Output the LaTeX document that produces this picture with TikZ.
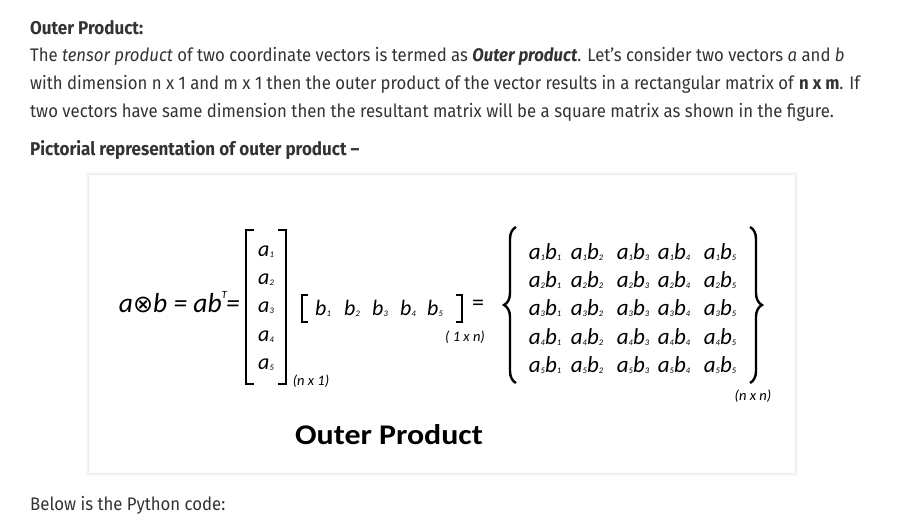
\documentclass[tikz,border=0pt]{standalone}
\usepackage{fontspec}
\setmainfont[FakeStretch=0.92]{Fira Sans}
\newfontfamily\calibri{Carlito}
\newfontfamily\calibriwide[FakeStretch=1.12]{Carlito}
\newfontfamily\symfont{DejaVu Sans}
\usetikzlibrary{positioning, decorations.pathreplacing}
\definecolor{bodytext}{RGB}{51, 51, 51}
\definecolor{cardline}{RGB}{236, 236, 236}
\definecolor{cardshadow}{RGB}{246, 246, 246}
\newcommand{\sub}[1]{\raisebox{-0.1ex}{\fontsize{8.5}{8.5}\selectfont #1}}

\begin{document}
\begin{tikzpicture}[x=1pt, y=-1pt]
    \tikzstyle{para} = [anchor=west, inner sep=0pt, text=bodytext,
                        font=\fontsize{18.2}{20}\selectfont]
    \tikzstyle{head} = [para, font=\fontsize{18.5}{20}\selectfont\bfseries]
    \tikzstyle{eq}   = [inner sep=0pt, font=\calibri\itshape\fontsize{22}{22}\selectfont]
    \tikzstyle{cell} = [inner sep=0pt, font=\calibri\itshape\fontsize{23}{23}\selectfont]
    \tikzstyle{dim}  = [inner sep=0pt, font=\calibri\itshape\fontsize{14.5}{15}\selectfont]
    \tikzstyle{bracket} = [line width=2.6pt]
    \tikzstyle{curly} = [line width=2.4pt, decorate,
                         decoration={brace, amplitude=12pt}]

    \useasboundingbox (0,0) rectangle (911,529);

    % text above the figure
    \node[head] (title) at (30,28) {Outer Product:};
    \node[para] (line1) at (30,56) {The \textit{tensor product} of two coordinate vectors is termed as \textbf{\textit{Outer product}}. Let’s consider two vectors \textit{a} and \textit{b}};
    \node[para] (line2) at (30,84) {with dimension n x 1 and m x 1 then the outer product of the vector results in a rectangular matrix of \textbf{n x m}. If};
    \node[para] (line3) at (30,112) {two vectors have same dimension then the resultant matrix will be a square matrix as shown in the figure.};
    \node[head] (pict) at (30,150) {Pictorial representation of outer product –};

    % card
    \fill[cardshadow] (86,172) rectangle (798,476);
    \draw[cardline, fill=white] (88,174) rectangle (795,473);

    % left hand side
    \node[eq, anchor=east, font=\calibri\itshape\fontsize{27.5}{28}\selectfont] (lhs) at (240,302)
        {a{\symfont\fontsize{24}{24}\selectfont ⊗}b = ab\raisebox{1.1ex}{\fontsize{11}{11}\selectfont T}\hspace{-1pt}=};

    % column vector a
    \foreach \r/\y in {1/252, 2/280, 3/308, 4/337, 5/365}
        \node[eq] (a\r) at (266,\y) {a\sub{\r}};
    \draw[bracket] (254,230) -- (246,230) -- (246,384) -- (254,384);
    \draw[bracket] (278,230) -- (286,230) -- (286,384) -- (278,384);
    \node[dim] (dima) at (311,381) {(n x 1)};

    % row vector b
    \foreach \c/\x in {1/323, 2/352, 3/380, 4/408, 5/435}
        \node[eq] (b\c) at (\x,308) {b\sub{\c}};
    \draw[bracket] (308,295) -- (302,295) -- (302,322) -- (308,322);
    \draw[bracket] (456,295) -- (462,295) -- (462,322) -- (456,322);
    \node[dim] (dimb) at (465,337) {( 1 x n)};
    \node[eq, font=\calibri\fontsize{24}{24}\selectfont] (eqs) at (478,305) {=};

    % result matrix
    \foreach \r/\y in {1/252, 2/280, 3/308, 4/337, 5/365}
        \foreach \c/\x in {1/545, 2/587, 3/633, 4/674, 5/720}
            \node[cell] (m\r\c) at (\x,\y) {a\sub{\r}b\sub{\c}};
    \draw[curly] (516,383) -- (516,227);
    \draw[curly] (750,227) -- (750,383);
    \node[dim] (dimm) at (753,396) {(n x n)};

    \node[font=\calibriwide\bfseries\fontsize{28.5}{30}\selectfont] (caption) at (389,435) {Outer Product};

    % text below the figure
    \node[para] (below) at (30,505) {Below is the Python code:};
\end{tikzpicture}
\end{document}
